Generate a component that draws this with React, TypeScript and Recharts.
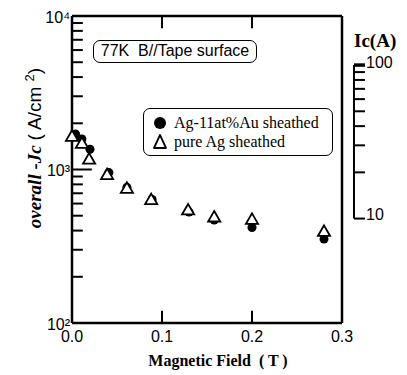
import { ScatterChart, Scatter, XAxis, YAxis, ZAxis, ReferenceLine } from 'recharts'

const SANS = '"Liberation Sans", Arial, sans-serif'
const SERIF = '"Liberation Serif", "Times New Roman", serif'

// Ag-11at%Au sheathed (filled circles)
const FIELD_AU = [0.004, 0.011, 0.02, 0.041, 0.061, 0.089, 0.13, 0.158, 0.2, 0.28]
const JC_AU = [1700, 1580, 1355, 955, 765, 638, 528, 469, 419, 352]

// pure Ag sheathed (open triangles)
const FIELD_AG = [0.0, 0.011, 0.019, 0.039, 0.061, 0.088, 0.129, 0.158, 0.2, 0.28]
const JC_AG = [1620, 1460, 1150, 912, 743, 627, 537, 483, 466, 389]

const X_DOMAIN = [0, 0.3]
const JC_DOMAIN = [100, 10000]
const X_TICKS = [0, 0.1, 0.2, 0.3]
const X_INNER_TICKS = [0.1, 0.2]
const JC_TICKS = [100, 200, 300, 400, 500, 600, 700, 800, 900, 1000, 2000, 3000, 4000, 5000, 6000, 7000, 8000, 9000, 10000]
const JC_LABELS: Record<number, string> = { 100: '10²', 1000: '10³', 10000: '10⁴' }

// Ic scale on the right: Ic (A) -> overall Jc (A/cm2)
const IC_TICKS = [10, 20, 30, 40, 50, 60, 70, 80, 90, 100]
const IC_TO_JC = 47.9
const IC_AXIS_X = 0.3133
const IC_TICK_LEN = 0.0122

// inward tick lengths, in axis units
const Y_TICK_MINOR = 0.012
const Y_TICK_MAJOR = 0.022
const X_TICK_BOTTOM = 120
const X_TICK_TOP = 8330

const SERIES_AU = 'Ag-11at%Au sheathed'
const SERIES_AG = 'pure Ag sheathed'

const auData = FIELD_AU.map((b, i) => ({ b, jc: JC_AU[i] }))
const agData = FIELD_AG.map((b, i) => ({ b, jc: JC_AG[i] }))

function LegendDot({ cx, cy }: any) {
  return <circle cx={cx} cy={cy} r={6} fill="#000" />
}

function LegendTri({ cx, cy }: any) {
  return (
    <path
      d={`M${cx},${cy - 7} L${cx + 6},${cy + 6} L${cx - 6},${cy + 6} Z`}
      fill="#fff"
      stroke="#000"
      strokeWidth={1.8}
      strokeLinejoin="round"
    />
  )
}

function LegendBox() {
  const row = (top: number, marker: any, label: string) => (
    <div style={{ position: 'absolute', left: 0, top, height: 18, width: '100%' }}>
      <svg width={16} height={18} style={{ position: 'absolute', left: 8, top: 0 }}>
        {marker}
      </svg>
      <span style={{ position: 'absolute', left: 30, top: 0, lineHeight: '18px', whiteSpace: 'nowrap' }}>{label}</span>
    </div>
  )
  return (
    <div
      style={{
        position: 'absolute',
        left: 143,
        top: 108,
        boxSizing: 'border-box',
        width: 190,
        height: 48,
        border: '1.5px solid #000',
        borderRadius: 7,
        fontFamily: SERIF,
        fontSize: 16,
        color: '#000',
      }}
    >
      {row(5, <LegendDot cx={8} cy={9} />, SERIES_AU)}
      {row(24, <LegendTri cx={8} cy={9} />, SERIES_AG)}
    </div>
  )
}

const edge = { stroke: '#000', strokeWidth: 2.5 }
const tickMark = { stroke: '#000', strokeWidth: 2 }

const overlayText = { position: 'absolute' as const, color: '#000', whiteSpace: 'nowrap' as const }

export default function App() {
  return (
    <div style={{ position: 'absolute', left: 0, top: 0, width: 407, height: 375 }}>
      <ScatterChart width={407} height={375} margin={{ top: 16, right: 65, bottom: 0, left: 0 }}>
        <XAxis
          dataKey="b"
          type="number"
          domain={X_DOMAIN}
          ticks={X_TICKS}
          interval={0}
          axisLine={edge}
          tickLine={false}
          height={52}
          tickFormatter={(v: number) => v.toFixed(1)}
          tick={{ fill: '#000', fontSize: 16, fontFamily: SANS }}
        />
        <YAxis
          dataKey="jc"
          type="number"
          scale="log"
          domain={JC_DOMAIN}
          ticks={JC_TICKS}
          interval={0}
          axisLine={edge}
          tickLine={false}
          width={72}
          tickFormatter={(v: number) => JC_LABELS[v] || ''}
          tick={{ fill: '#000', fontSize: 16, fontFamily: SANS, dx: 6, dy: 1 }}
        />
        <ZAxis zAxisId="circle" range={[113, 113]} />
        <ZAxis zAxisId="tri" range={[80, 80]} />
        {/* frame top and right */}
        <ReferenceLine segment={[{ x: X_DOMAIN[0], y: JC_DOMAIN[1] }, { x: X_DOMAIN[1], y: JC_DOMAIN[1] }]} {...edge} />
        <ReferenceLine segment={[{ x: X_DOMAIN[1], y: JC_DOMAIN[0] }, { x: X_DOMAIN[1], y: JC_DOMAIN[1] }]} {...edge} />
        {/* inward ticks */}
        {JC_TICKS.filter((v) => v > JC_DOMAIN[0] && v < JC_DOMAIN[1]).map((v) => (
          <ReferenceLine
            key={`y${v}`}
            segment={[{ x: 0, y: v }, { x: v === 1000 ? Y_TICK_MAJOR : Y_TICK_MINOR, y: v }]}
            {...tickMark}
          />
        ))}
        {X_INNER_TICKS.map((v) => (
          <ReferenceLine key={`xb${v}`} segment={[{ x: v, y: JC_DOMAIN[0] }, { x: v, y: X_TICK_BOTTOM }]} {...tickMark} />
        ))}
        {X_INNER_TICKS.map((v) => (
          <ReferenceLine key={`xt${v}`} segment={[{ x: v, y: JC_DOMAIN[1] }, { x: v, y: X_TICK_TOP }]} {...tickMark} />
        ))}
        {/* Ic scale */}
        <ReferenceLine
          segment={[{ x: IC_AXIS_X, y: IC_TICKS[0] * IC_TO_JC }, { x: IC_AXIS_X, y: IC_TICKS[IC_TICKS.length - 1] * IC_TO_JC }]}
          ifOverflow="visible"
          {...tickMark}
        />
        {IC_TICKS.map((v) => (
          <ReferenceLine
            key={`ic${v}`}
            segment={[{ x: IC_AXIS_X, y: v * IC_TO_JC }, { x: IC_AXIS_X + IC_TICK_LEN, y: v * IC_TO_JC }]}
            ifOverflow="visible"
            {...tickMark}
            strokeWidth={v === 100 ? 3.5 : 2}
          />
        ))}
        <Scatter
          name={SERIES_AU}
          data={auData}
          zAxisId="circle"
          shape="circle"
          fill="#000"
          isAnimationActive={false}
        />
        <Scatter
          name={SERIES_AG}
          data={agData}
          zAxisId="tri"
          shape="triangle"
          fill="#fff"
          stroke="#000"
          strokeWidth={1.8}
          isAnimationActive={false}
        />
      </ScatterChart>
      <LegendBox />
      <div
        style={{
          ...overlayText,
          left: 93,
          top: 40,
          width: 164,
          height: 23,
          boxSizing: 'border-box',
          border: '1.5px solid #000',
          borderRadius: 7,
          fontFamily: SANS,
          fontSize: 16,
          lineHeight: '20px',
          textAlign: 'center',
        }}
      >
        77K&nbsp;&nbsp;B//Tape surface
      </div>
      <div
        style={{
          ...overlayText,
          left: 118,
          top: 351,
          width: 200,
          textAlign: 'center',
          fontFamily: SERIF,
          fontWeight: 'bold',
          fontSize: 16,
          lineHeight: '20px',
          whiteSpace: 'pre',
        }}
      >
        Magnetic Field  ( T )
      </div>
      <div
        style={{
          ...overlayText,
          left: -70,
          top: 136,
          width: 200,
          height: 24,
          transform: 'rotate(-90deg)',
          textAlign: 'center',
          fontSize: 19,
          lineHeight: '24px',
        }}
      >
        <span style={{ fontFamily: SERIF, fontStyle: 'italic', fontWeight: 'bold' }}>overall -Jc </span>
        <span style={{ fontFamily: SANS }}>
          ( A/cm <sup style={{ fontSize: 13 }}>2</sup>)
        </span>
      </div>
      <div style={{ ...overlayText, left: 354, top: 30, fontFamily: SERIF, fontWeight: 'bold', fontSize: 19, lineHeight: '22px' }}>
        Ic(A)
      </div>
      <div style={{ ...overlayText, left: 366, top: 54, fontFamily: SANS, fontSize: 16, lineHeight: '18px' }}>100</div>
      <div style={{ ...overlayText, left: 366, top: 206, fontFamily: SANS, fontSize: 16, lineHeight: '18px' }}>10</div>
    </div>
  )
}
